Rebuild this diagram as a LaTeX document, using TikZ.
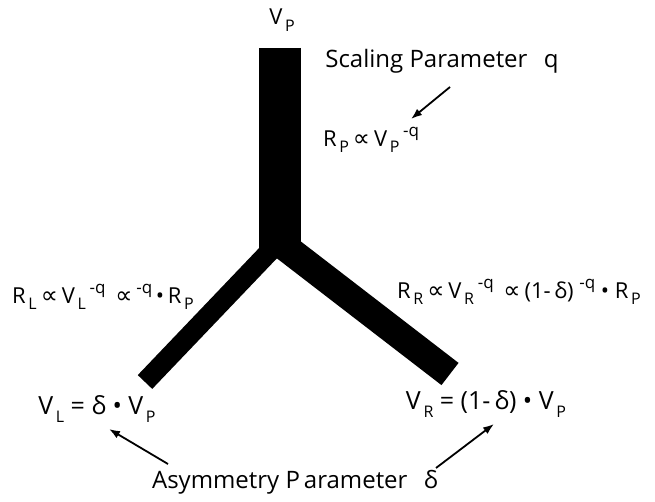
\documentclass[tikz,border=0pt]{standalone}
\usepackage{fontspec}
\setmainfont{Open Sans}
\newfontfamily\symfont{DejaVu Sans}
\usetikzlibrary{arrows.meta}
\newcommand{\lo}[1]{\raisebox{-.3em}{\fontsize{16}{16}\selectfont\,#1}}
\newcommand{\hi}[1]{\raisebox{.45em}{\fontsize{17}{17}\selectfont #1}}
\newcommand{\prop}{{\symfont\fontsize{24}{24}\selectfont\,∝\,}}

\begin{document}
\begin{tikzpicture}[x=1pt,y=-1pt,
  every node/.style={inner sep=0pt,font=\fontsize{22}{25}\selectfont},
  title/.style={font=\fontsize{24}{28}\selectfont},
  vol/.style={font=\fontsize{25}{28}\selectfont},
  arr/.style={-{Latex[length=11pt,width=8pt]},line width=1.8pt},
]
\useasboundingbox (0,0) rectangle (655,502);
% vessel tree
\coordinate (top) at (280,48); \coordinate (jp) at (280,258);
\coordinate (jl) at (272,249); \coordinate (jr) at (276,240);
\coordinate (el) at (145,382); \coordinate (er) at (450,374);
\draw[line width=42pt] (top) -- (jp);
\draw[line width=20pt] (jl) -- (el);
\draw[line width=28pt] (jr) -- (er);
% labels
\node(vp) at(282,20){V\lo{P}};
\node[title](scal) at(442,61){Scaling Parameter\ \, q};
\node(rp) at(371,140){R\lo{P}\prop V\lo{P}\,\hi{-q}};
\node(rl) at(103,297){R\lo{L}\prop V\lo{L}\,\hi{-q}\ \prop\hi{-q}\,•\,R\lo{P}};
\node(rr) at(519,292){R\lo{R}\prop V\lo{R}\,\hi{-q}\ \prop(1-\,δ)\ \hi{-q}\ •\ R\lo{P}};
\node[vol](vl) at(97,409){V\lo{L} = δ • V\lo{P}};
\node[vol](vr) at(486,404){V\lo{R} = (1-\,δ) • V\lo{P}};
\node[title](asym) at(295,482){Asymmetry P\,arameter\ \, δ};
% arrows
\coordinate (qt) at (450,87); \coordinate (qh) at (411,119);
\coordinate (lt) at (168,464); \coordinate (lh) at (109,429);
\coordinate (rt) at (436,468); \coordinate (rh) at (494,424);
\draw[arr] (qt) -- (qh);
\draw[arr] (lt) -- (lh);
\draw[arr] (rt) -- (rh);
\end{tikzpicture}
\end{document}
